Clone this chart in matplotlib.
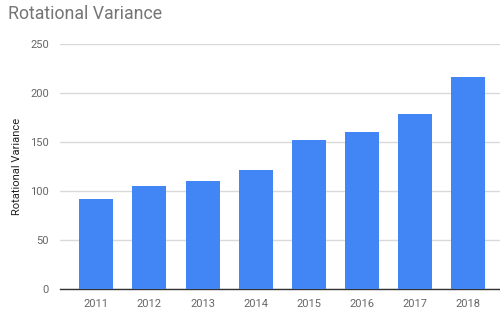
import matplotlib.pyplot as plt
import numpy as np

# DATA
years = ['2011', '2012', '2013', '2014', '2015', '2016', '2017', '2018']
variance = [92, 105, 110, 121, 152, 160, 178, 216]
yticks = [0, 50, 100, 150, 200, 250]

plt.rcParams['font.family'] = ['Roboto', 'DejaVu Sans']

fig = plt.figure(figsize=(5, 3.1), dpi=100)
# axes placed in pixel terms: left 60, right 500, bottom 289, top 43.5
ax = fig.add_axes([60 / 500, (310 - 289) / 310, 440 / 500, (289 - 43.5) / 310])

x = np.arange(len(years))
ax.bar(x, variance, width=0.64, color='#4285F4', zorder=3)

ax.set_xlim(-0.683, 7.6)
ax.set_ylim(0, 250)
ax.set_yticks(yticks)
ax.set_xticks(x)
ax.set_xticklabels(years)

ax.grid(axis='y', color='#d9d9d9', linewidth=1, zorder=0)
for side in ['top', 'right', 'left']:
    ax.spines[side].set_visible(False)
ax.spines['bottom'].set_color('#333333')
ax.spines['bottom'].set_linewidth(1)
ax.tick_params(axis='both', length=0, labelsize=8, colors='#666666')
ax.tick_params(axis='x', pad=7)
ax.tick_params(axis='y', pad=8)

ax.set_ylabel('Rotational Variance', fontsize=8, color='#222222', labelpad=6)
fig.text(0.016, 0.955, 'Rotational Variance', fontsize=12.8, color='#757575',
         ha='left', va='center')

fig.savefig('out.png', dpi=100)
